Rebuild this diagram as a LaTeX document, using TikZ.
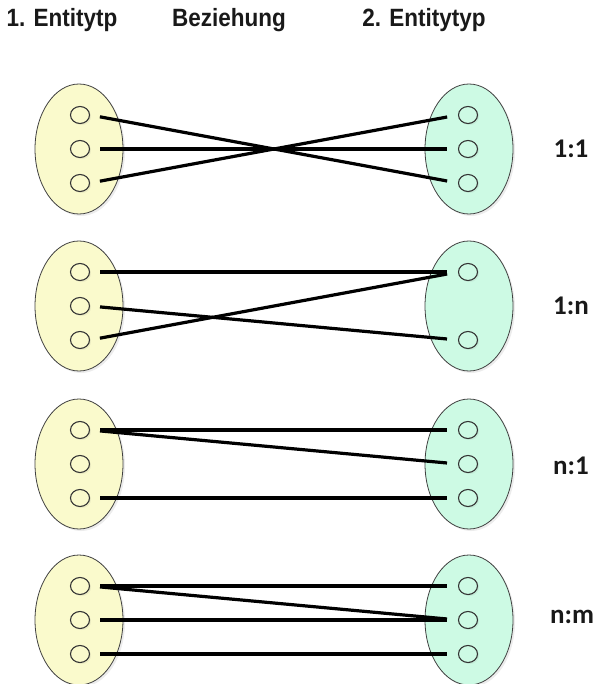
\documentclass[tikz,border=0pt]{standalone}
\usepackage{fontspec}
\setmainfont{Liberation Sans}
\newfontfamily\headfont[FakeStretch=0.9]{Liberation Sans}
\newfontfamily\ratiofont{Carlito}
\usetikzlibrary{positioning, shapes, shadows}
\definecolor{entyellow}{RGB}{250,250,204}
\definecolor{entmint}{RGB}{205,250,228}
\tikzstyle{head} = [font=\headfont\bfseries\fontsize{25}{28}\selectfont, text=black!90, inner sep=0pt]
\tikzstyle{ratio} = [font=\ratiofont\bfseries\fontsize{27}{30}\selectfont, text=black!90, inner sep=0pt]
\tikzstyle{set} = [draw=black!75, line width=0.8pt, ellipse, inner sep=0pt, minimum width=88pt, minimum height=130pt, drop shadow={shadow xshift=2pt, shadow yshift=-2pt, opacity=0.15}]
\tikzstyle{setleft} = [set, fill=entyellow]
\tikzstyle{setright} = [set, fill=entmint]
\tikzstyle{elem} = [draw=black!80, line width=1.1pt, ellipse, inner sep=0pt, minimum width=19pt, minimum height=17pt, drop shadow={shadow xshift=1.5pt, shadow yshift=-1.5pt, opacity=0.12}]
\tikzstyle{elemleft} = [elem, fill=entyellow]
\tikzstyle{elemright} = [elem, fill=entmint]
\tikzstyle{link} = [line width=3.2pt, shorten <=10pt, shorten >=11pt]

\begin{document}
\begin{tikzpicture}[x=1pt, y=-1pt]
  \useasboundingbox (0,0) rectangle (595,684);

  % headings
  \node[head] (h1) at (62,20) {1. Entitytp};
  \node[head] (h2) at (229,20) {Beziehung};
  \node[head] (h3) at (424,20) {2. Entitytyp};

  % the two sets of each row
  \foreach \r/\y in {1/149, 2/306, 3/464, 4/620} {
    \node[setleft] (L\r) at (79,\y) {};
    \node[setright] (R\r) at (469,\y) {};
    \foreach \k/\d in {a/-34, b/0, c/34}
      \node[elemleft] (L\r\k) at (80,\y+\d) {};
  }
  \foreach \r/\y in {1/149, 3/464, 4/620}
    \foreach \k/\d in {a/-34, b/0, c/34}
      \node[elemright] (R\r\k) at (468,\y+\d) {};
  \node[elemright] (R2a) at (468,272) {};
  \node[elemright] (R2c) at (468,340) {};

  % 1:1
  \draw[link] (L1a.east) -- (R1c.west);
  \draw[link] (L1b.east) -- (R1b.west);
  \draw[link] (L1c.east) -- (R1a.west);
  \node[ratio] (q1) at (571,149) {1:1};

  % 1:n
  \draw[link] (L2a.east) -- (R2a.west);
  \draw[link] (L2b.east) -- (R2c.west);
  \draw[link] (L2c.east) -- (R2a.west);
  \node[ratio] (q2) at (571,306) {1:n};

  % n:1
  \draw[link] (L3a.east) -- (R3a.west);
  \draw[link] (L3a.east) -- (R3b.west);
  \draw[link] (L3c.east) -- (R3c.west);
  \node[ratio] (q3) at (571,466) {n:1};

  % n:m
  \draw[link] (L4a.east) -- (R4a.west);
  \draw[link] (L4a.east) -- (R4b.west);
  \draw[link] (L4b.east) -- (R4b.west);
  \draw[link] (L4c.east) -- (R4c.west);
  \node[ratio] (q4) at (572,617) {n:m};
\end{tikzpicture}
\end{document}
